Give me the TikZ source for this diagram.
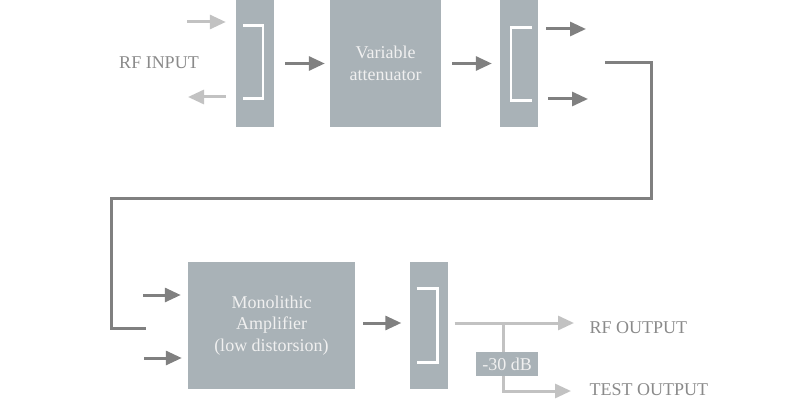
\documentclass[tikz,border=0pt]{standalone}
\usepackage{fontspec}
\setmainfont{Liberation Serif}
\usetikzlibrary{arrows.meta, positioning, calc}
\definecolor{boxgrey}{HTML}{A9B2B7}
\definecolor{darkgrey}{HTML}{808080}
\definecolor{lightgrey}{HTML}{C2C2C2}
\definecolor{labelgrey}{HTML}{8A8A8A}

\begin{document}
\begin{tikzpicture}[x=1pt, y=-1pt,
  box/.style={fill=boxgrey, inner sep=0pt, align=center, text=white!94!black,
    font=\fontsize{18}{21.6}\selectfont},
  coupler/.style={box, minimum width=38pt, minimum height=127pt},
  label/.style={text=labelgrey, font=\fontsize{18}{21.6}\selectfont},
  arrow/.style={-{Triangle[length=16pt, width=14pt]}, line width=3pt, draw=darkgrey},
  faint/.style={arrow, draw=lightgrey},
  loopline/.style={line width=3pt, draw=darkgrey},
  bracket/.style={draw=white, line width=2.4pt}]
  \useasboundingbox (0,0) rectangle (800,401);

  % upper chain
  \node[coupler] (c1) at (255,63.5) {};
  \node[box, minimum width=111pt, minimum height=127pt] (att) at (385.5,63.5)
    {Variable\\attenuator};
  \node[coupler] (c2) at (519,63.5) {};
  \node[label] (rfin) at (159,63) {RF INPUT};

  \draw[bracket] ($(c1)+(-12,-38)$) -| ($(c1)+(8,35)$) -- ++(-20,0);
  \draw[bracket] ($(c2)+(13,-36)$) -| ($(c2)+(-8,37)$) -- ++(21,0);

  \coordinate (in1) at (187,22);
  \coordinate (ret1) at (188,97);
  \draw[faint, shorten >=10pt] (in1) -- (in1 -| c1.west);
  \draw[faint, shorten <=10pt] (c1.west |- ret1) -- (ret1);
  \draw[arrow, shorten <=11pt, shorten >=5pt] (c1) -- (att);
  \draw[arrow, shorten <=11pt, shorten >=8pt] (att) -- (c2);

  \coordinate (o2a) at (586,29);
  \coordinate (o2b) at (588,99);
  \draw[arrow, shorten <=8pt] (c2.east |- o2a) -- (o2a);
  \draw[arrow, shorten <=10pt] (c2.east |- o2b) -- (o2b);

  % loop down to the amplifier
  \coordinate (lp1) at (605,63);
  \coordinate (lp2) at (146,328);
  \draw[loopline] (lp1) -| (651,198) -| (111,328) -- (lp2);

  % lower chain
  \node[box, minimum width=167pt, minimum height=127pt] (amp) at (271.5,325.5)
    {Monolithic\\Amplifier\\(low distorsion)};
  \node[coupler] (c3) at (428.5,325.5) {};
  \draw[bracket] ($(c3)+(-12,-37)$) -| ($(c3)+(9,37)$) -- ++(-21,0);

  \coordinate (a1) at (143,295);
  \coordinate (a2) at (144,358);
  \draw[arrow, shorten >=7pt] (a1) -- (a1 -| amp.west);
  \draw[arrow, shorten >=6pt] (a2) -- (a2 -| amp.west);
  \draw[arrow, shorten <=8pt, shorten >=8pt] (amp.east |- 0,323) -- (c3.west |- 0,323);

  % outputs
  \coordinate (rfo) at (574,323);
  \coordinate (tap) at (503,323);
  \coordinate (tso) at (571,391);
  \draw[faint, shorten <=7pt] (c3.east |- rfo) -- (rfo);
  \draw[faint] (tap) |- (tso);
  \node[box, minimum width=62pt, minimum height=24pt] (db) at (507,364) {-30 dB};

  \node[label, anchor=west] (rfout) at (586,328) {RF OUTPUT};
  \node[label, anchor=west] (testout) at (586,390) {TEST OUTPUT};
\end{tikzpicture}
\end{document}
